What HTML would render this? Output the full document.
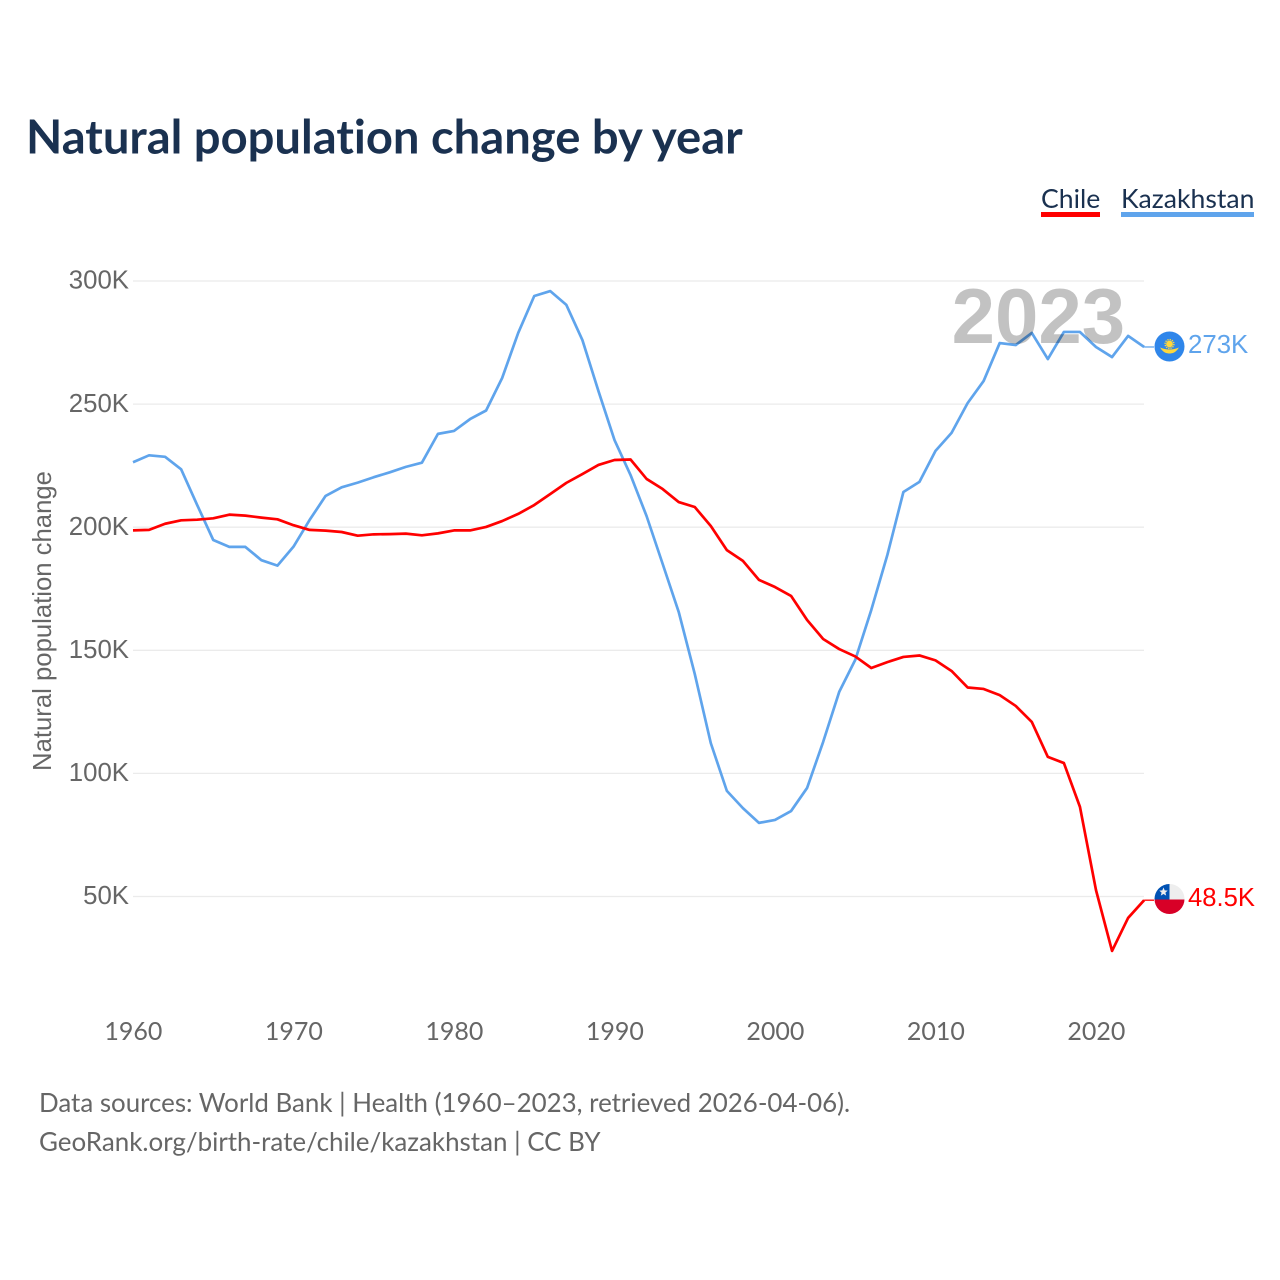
<!DOCTYPE html>
<html lang="en">
<head>
<meta charset="utf-8">
<title>Natural population change by year</title>
<style>
html,body{margin:0;padding:0;background:#fff;}
body{width:1280px;height:1280px;overflow:hidden;}
svg{display:block;}
text{font-family:"Lato","Carlito","Liberation Sans",sans-serif;font-variant-ligatures:none;}
text.arial{font-family:"Liberation Sans",sans-serif;}
</style>
</head>
<body>
<svg id="chart" xmlns="http://www.w3.org/2000/svg" width="1280" height="1280" viewBox="0 0 1280 1280">
  <text x="26" y="153.5" font-size="47.15" font-weight="700" fill="#1a3150">Natural population change by year</text>

  <g>
    <text x="1041" y="208" font-size="26.6" fill="#1a3150">Chile</text>
    <rect x="1041" y="212" width="59" height="5" fill="#ff0000"/>
  </g>
  <g>
    <text x="1121" y="208" font-size="26.6" fill="#1a3150">Kazakhstan</text>
    <rect x="1121" y="212" width="133" height="5" fill="#5fa4ec"/>
  </g>

  <g id="grid"></g>
  <g id="yticks"></g>
  <g id="xticks"></g>

  <text class="arial" transform="translate(51,621) rotate(-90)" text-anchor="middle" font-size="25.7" fill="#666666">Natural population change</text>

  <g id="series"></g>

  <text class="arial" x="1125.2" y="343" text-anchor="end" font-size="78" font-weight="700" fill="#000000" fill-opacity="0.24">2023</text>

  <g id="flag-kz">
    <circle cx="1169.5" cy="346.5" r="15" fill="#2f86ea"/>
    <circle cx="1169.5" cy="344" r="3.4" fill="#ffd83d"/>
    <circle cx="1169.5" cy="344" r="4.4" fill="none" stroke="#ffd83d" stroke-width="1.4" stroke-dasharray="1.3 1"/>
    <path d="M1160 347.5 Q1169.5 351.5 1179 347.5 Q1175 354 1169.5 353.5 Q1164 354 1160 347.5Z" fill="#ffd83d"/>
  </g>
  <text class="arial" id="label-kz" x="1188" y="352.8" font-size="25.8" fill="#5fa4ec">273K</text>

  <g id="flag-cl">
    <clipPath id="cl-clip"><circle cx="1169.5" cy="899" r="15"/></clipPath>
    <g clip-path="url(#cl-clip)">
      <rect x="1154" y="884" width="31" height="15.5" fill="#eeeeee"/>
      <rect x="1154" y="899.5" width="31" height="15.5" fill="#d80027"/>
      <rect x="1154" y="884" width="15.5" height="15.5" fill="#0052b4"/>
    </g>
    <path d="M1163.5 887.5l1.2 2.9 3 .2-2.3 2 .8 3-2.7-1.6-2.7 1.6.8-3-2.3-2 3-.2z" fill="#eeeeee"/>
  </g>
  <text class="arial" id="label-cl" x="1188" y="905.8" font-size="25.6" fill="#ff0000">48.5K</text>

  <text x="39" y="1112" font-size="25.9" fill="#666666">Data sources: World Bank | Health (1960–2023, retrieved 2026-04-06).</text>
  <text x="39" y="1151" font-size="25.95" fill="#666666">GeoRank.org/birth-rate/chile/kazakhstan | CC BY</text>
</svg>

<script>
const startYear = 1960;
const yTickValues = [300, 250, 200, 150, 100, 50];
const yTickLabels = ["300K", "250K", "200K", "150K", "100K", "50K"];
const xTickValues = [1960, 1970, 1980, 1990, 2000, 2010, 2020];
const xTickLabels = ["1960", "1970", "1980", "1990", "2000", "2010", "2020"];

const chileValues = [
  198.7,198.9,201.4,202.8,203.05,203.6,205.1,204.7,203.9,203.2,
  200.8,198.9,198.6,198.05,196.55,197.1,197.2,197.4,196.7,197.5,
  198.7,198.7,200.1,202.5,205.4,209,213.5,218,221.6,225.3,
  227.3,227.5,219.6,215.5,210.2,208.2,200.5,190.7,186.3,178.6,
  175.7,172.1,162.3,154.6,150.5,147.5,142.8,145.2,147.3,147.9,
  145.9,141.6,134.9,134.3,131.8,127.4,120.9,106.7,104.2,86.4,
  52.6,27.9,41.3,48.5
];
const kazakhstanValues = [
  226.4,229.2,228.6,223.5,209,194.8,192,192,186.6,184.4,
  192.1,202.9,212.7,216.2,218.1,220.3,222.3,224.5,226.2,237.9,
  239.1,243.9,247.4,260.6,278.9,293.9,295.9,290.3,276,255.3,
  235.4,221.2,204.5,185.1,165.6,140.4,112.3,92.9,85.9,79.9,
  81.1,84.7,94.1,112.8,133.1,146.1,166.4,188.7,214.3,218.4,
  231,238.3,250.4,259.4,274.8,274,278.9,268.3,279.3,279.3,
  273.2,269.1,277.7,273.2
];

const NS = "http://www.w3.org/2000/svg";
function xScale(year) { return 133 + (year - 1960) * 16.05; }
function yScale(v) { return 281 + (300 - v) * 2.462; }
function make(tag, attrs, text) {
  const el = document.createElementNS(NS, tag);
  for (const k in attrs) el.setAttribute(k, attrs[k]);
  if (text !== undefined) el.textContent = text;
  return el;
}
const gridG = document.getElementById("grid");
const yG = document.getElementById("yticks");
const xG = document.getElementById("xticks");
const seriesG = document.getElementById("series");

yTickValues.forEach(function (v, i) {
  const line = make("line", { x1: 133, x2: 1144, y1: yScale(v), y2: yScale(v), stroke: "#ebebeb", "stroke-width": 1.3 });
  
  
  gridG.appendChild(line);
  const label = make("text", { class: "arial", x: 129, y: yScale(v) + 7.7, "text-anchor": "end", "font-size": 25.8, fill: "#666666" }, yTickLabels[i]);
  
  
  yG.appendChild(label);
});

xTickValues.forEach(function (yr, i) {
  const label = make("text", { x: xScale(yr) + 0.4, y: 1040, "text-anchor": "middle", "font-size": 25, fill: "#666666" }, xTickLabels[i]);
  
  
  xG.appendChild(label);
});

function pathFor(values) {
  return values.map(function (v, i) {
    return (i ? "L" : "M") + xScale(startYear + i).toFixed(2) + " " + yScale(v).toFixed(2);
  }).join("");
}
function leaderFor(values) {
  const i = values.length - 1;
  const y = yScale(values[i]);
  return make("line", { x1: xScale(startYear + i), x2: 1154, y1: y, y2: y, "stroke-width": 1.3 });
}

const kzLine = make("path", { d: pathFor(kazakhstanValues), fill: "none", stroke: "#5fa4ec", "stroke-width": 2.7, "stroke-linejoin": "round" });


seriesG.appendChild(kzLine);

const clLine = make("path", { d: pathFor(chileValues), fill: "none", stroke: "#ff0000", "stroke-width": 2.7, "stroke-linejoin": "round" });


seriesG.appendChild(clLine);

const kzLeader = leaderFor(kazakhstanValues);
kzLeader.setAttribute("stroke", "#5fa4ec");


seriesG.appendChild(kzLeader);

const clLeader = leaderFor(chileValues);
clLeader.setAttribute("stroke", "#ff0000");


seriesG.appendChild(clLeader);
</script>
</body>
</html>
